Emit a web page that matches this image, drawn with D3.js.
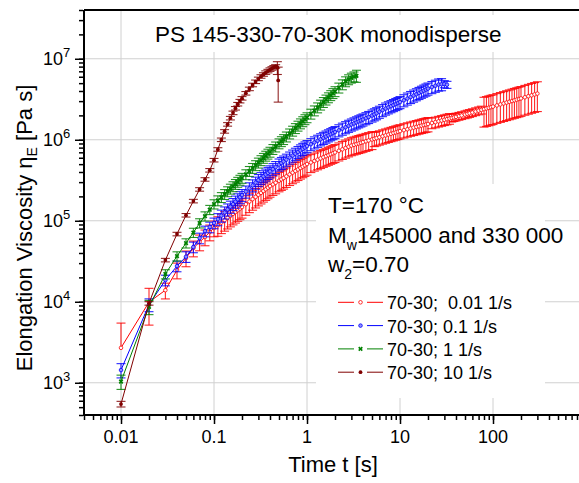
<!DOCTYPE html>
<html lang="en">
<head>
<meta charset="utf-8">
<script src="https://d3js.org/d3.v7.min.js"></script>
<style>
  body { margin: 0; background: #fff; }
  text { font-family: Arial, "Liberation Sans", sans-serif; fill: #000; }
</style>
</head>
<body>
<div id="chart"></div>
<script>
// ---- data: time [s] and elongational viscosity [Pa s] ----
// measurement times shared by the red, blue and green runs
var tGrid = [0.01,0.02,0.03,0.04,0.05,0.06,0.07,0.08,0.09,
  0.1,0.11,0.12,0.13,0.14,0.15,0.16,0.17,0.18,0.19,0.2,0.22,0.24,0.26,0.28,0.3,0.32,0.34,0.36,0.38,
  0.4,0.43,0.46,0.5,0.53,0.56,0.6,0.65,0.7,0.75,0.8,0.85,0.9,0.95,
  1,1.1,1.2,1.3,1.4,1.5,1.6,1.7,1.8,1.9,2,2.2,2.4,2.6,2.8,3,3.2,3.4,3.6,3.8,
  4,4.3,4.6,5,5.3,5.6,6,6.5,7,7.5,8,8.5,9,9.5,
  10,11,12,13,14,15,16,17,18,19,20,22,24,26,28,30,32,34,36,38,
  40,43,46,50,53,56,60,65,70,75,80,85,90,95,
  100,110,120,130,140,150,160,170,180,190,200,220,240,260,280,300];

var redV = [2700,9900,13900,24600,34700,46000,54600,63000,72500,
  8.13e4,8.82e4,9.51e4,1.019e5,1.085e5,1.152e5,1.218e5,1.283e5,1.348e5,1.412e5,
  1.476e5,1.602e5,1.726e5,1.849e5,1.971e5,2.091e5,2.21e5,2.329e5,2.446e5,2.562e5,
  2.679e5,2.814e5,2.948e5,3.12e5,3.247e5,3.371e5,3.534e5,3.733e5,3.926e5,4.116e5,
  4.301e5,4.483e5,4.661e5,4.837e5,
  5.012e5,5.246e5,5.47e5,5.681e5,5.886e5,6.084e5,6.275e5,6.458e5,6.637e5,6.812e5,
  6.98e5,7.306e5,7.615e5,7.913e5,8.199e5,8.472e5,8.661e5,8.843e5,9.017e5,9.186e5,
  9.348e5,9.583e5,9.806e5,1.009e6,1.029e6,1.049e6,1.074e6,1.104e6,1.132e6,1.159e6,
  1.185e6,1.21e6,1.234e6,1.257e6,
  1.279e6,1.315e6,1.349e6,1.381e6,1.411e6,1.44e6,1.467e6,1.494e6,1.519e6,1.543e6,
  1.566e6,1.611e6,1.652e6,1.691e6,1.728e6,1.763e6,1.797e6,1.829e6,1.86e6,1.889e6,
  1.918e6,1.959e6,1.998e6,2.046e6,2.086e6,2.124e6,2.173e6,2.231e6,2.286e6,2.339e6,
  2.389e6,2.437e6,2.483e6,2.528e6,
  2.57e6,2.654e6,2.732e6,2.807e6,2.877e6,2.944e6,3.009e6,3.071e6,3.13e6,3.188e6,
  3.243e6,3.348e6,3.448e6,3.54e6,3.63e6,3.715e6];

var blueV = [1435,9200,18500,27600,36000,47400,61100,74600,83600,
  9.38e4,1.046e5,1.156e5,1.266e5,1.379e5,1.492e5,1.607e5,1.722e5,1.839e5,1.956e5,
  2.075e5,2.294e5,2.513e5,2.734e5,2.955e5,3.177e5,3.359e5,3.541e5,3.72e5,3.898e5,
  4.075e5,4.338e5,4.598e5,4.943e5,5.166e5,5.386e5,5.675e5,6.029e5,6.376e5,6.72e5,
  7.056e5,7.387e5,7.714e5,8.037e5,
  8.356e5,8.827e5,9.279e5,9.716e5,1.014e6,1.055e6,1.095e6,1.134e6,1.172e6,1.209e6,
  1.245e6,1.309e6,1.37e6,1.43e6,1.487e6,1.542e6,1.592e6,1.641e6,1.689e6,1.735e6,
  1.78e6,1.846e6,1.91e6,1.991e6,2.061e6,2.128e6,2.217e6,2.323e6,2.427e6,2.514e6,
  2.599e6,2.682e6,2.762e6,2.84e6,
  2.917e6,3.074e6,3.225e6,3.371e6,3.511e6,3.648e6,3.782e6,3.912e6,4.04e6,4.164e6,
  4.285e6,4.469e6,4.643e6,4.808e6,4.853e6,4.875e6,4.786e6];

var greenV = [1035,8670,22000,36600,53000,71500,93700,1.14e5,1.37e5,
  1.607e5,1.78e5,1.953e5,2.128e5,2.304e5,2.48e5,2.657e5,2.835e5,3.014e5,3.194e5,
  3.374e5,3.737e5,4.101e5,4.468e5,4.837e5,5.207e5,5.578e5,5.953e5,6.33e5,6.708e5,
  7.085e5,7.654e5,8.226e5,8.995e5,9.572e5,1.015e6,1.093e6,1.191e6,1.289e6,1.388e6,
  1.487e6,1.587e6,1.687e6,1.787e6,
  1.888e6,2.091e6,2.294e6,2.5e6,2.706e6,2.913e6,3.122e6,3.33e6,3.541e6,3.752e6,
  3.963e6,4.39e6,4.817e6,5.25e6,5.559e6,5.821e6,6.026e6,6.166e6];

var brownT = [0.01,0.02,0.03,0.04,0.05,0.06,0.07,0.08,0.09,0.1,
  0.11,0.12,0.13,0.14,0.15,0.16,0.17,0.18,0.19,0.2,
  0.22,0.24,0.26,0.28,0.3,0.32,0.34,0.36,0.38,0.4,0.42,0.44,0.46,0.48,0.49];
var brownV = [546,9560,32700,68600,117000,175000,244000,324000,420000,560000,
  7.6e5,1.0e6,1.27e6,1.55e6,1.85e6,2.15e6,2.45e6,2.75e6,3.0e6,3.25e6,
  3.75e6,4.25e6,4.75e6,5.2e6,5.65e6,6.05e6,6.4e6,6.75e6,7.05e6,7.35e6,7.6e6,7.85e6,8.05e6,7.8e6,5.4e6];

// relative error bar size, valid up to the given time
var redErrT = [0.01, 0.02, 0.1, 1, 5, 20, 35, 75, 300];
var redErrV = [1.02, 0.48, 0.22, 0.27, 0.25, 0.2, 0.15, 0.11, 0.4];
var blueErrT = [0.01, 0.02, 0.1, 28, 32];
var blueErrV = [0.2, 0.18, 0.15, 0.17, 0.1];
var greenErrT = [0.02, 0.1, 3.2, 3.4];
var greenErrV = [0.2, 0.13, 0.14, 0.17];
var brownErrT = [0.01, 0.46, 0.48, 0.49];
var brownErrV = [0.08, 0.05, 0.18, 0.46];

var series = [
  {name: "70-30;  0.01 1/s", color: "#ff0000", mark: "open",
   t: tGrid.slice(0, redV.length), v: redV, et: redErrT, ev: redErrV},
  {name: "70-30; 0.1 1/s", color: "#0000ff", mark: "ring",
   t: tGrid.slice(0, blueV.length), v: blueV, et: blueErrT, ev: blueErrV},
  {name: "70-30; 1 1/s", color: "#008000", mark: "star",
   t: tGrid.slice(0, greenV.length), v: greenV, et: greenErrT, ev: greenErrV},
  {name: "70-30; 10 1/s", color: "#800000", mark: "dot",
   t: brownT, v: brownV, et: brownErrT, ev: brownErrV}
];

var xMajor = [0.01, 0.1, 1, 10, 100];
var xLabels = ["0.01", "0.1", "1", "10", "100"];
var yMajor = [1e3, 1e4, 1e5, 1e6, 1e7];
var yExp = ["3", "4", "5", "6", "7"];

// ---- layout ----
var W = 579, H = 483;
var pLeft = 84, pTop = 10, pBottom = 415;

var svg = d3.select("#chart").append("svg")
    .attr("width", W).attr("height", H);

var x = d3.scaleLog().domain([0.004, 1000]).range([pLeft, 586]);
var y = d3.scaleLog().domain([400, 4e7]).range([pBottom, pTop]);

function minors(lo, hi) {
  var out = [];
  for (var d = lo; d < hi; d *= 10)
    for (var k = 1; k < 10; k++) out.push(d * k);
  return out;
}
function errAt(s, t) {
  for (var i = 0; i < s.et.length; i++) if (t <= s.et[i] + 1e-9) return s.ev[i];
  return s.ev[s.ev.length - 1];
}

// grid
var grid = svg.append("g").attr("stroke", "#d0d0d0").attr("stroke-width", 1);
xMajor.forEach(function(v) {
  grid.append("line").attr("x1", x(v)).attr("x2", x(v)).attr("y1", pTop).attr("y2", pBottom);
});
yMajor.forEach(function(v) {
  grid.append("line").attr("x1", pLeft).attr("x2", W).attr("y1", y(v)).attr("y2", y(v));
});

// white boxes behind title and annotation
svg.append("rect").attr("x", 148).attr("y", 15).attr("width", 368).attr("height", 37).attr("fill", "#fff");
svg.append("rect").attr("x", 316).attr("y", 184).attr("width", 229).attr("height", 214).attr("fill", "#fff");

// data
svg.append("clipPath").attr("id", "clip").append("rect")
    .attr("x", pLeft).attr("y", pTop).attr("width", W - pLeft).attr("height", pBottom - pTop);
var plot = svg.append("g").attr("clip-path", "url(#clip)");
var cap = 4.5;

function drawMarker(g, mark, color, cx, cy) {
  if (mark === "open") {
    g.append("circle").attr("cx", cx).attr("cy", cy).attr("r", 1.8)
      .attr("fill", "#fff").attr("stroke", color).attr("stroke-width", 0.8);
  } else if (mark === "ring") {
    g.append("circle").attr("cx", cx).attr("cy", cy).attr("r", 1.8)
      .attr("fill", "#9090ff").attr("stroke", color).attr("stroke-width", 0.8);
  } else if (mark === "star") {
    g.append("path").attr("d", d3.symbol(d3.symbolCross, 14)())
      .attr("transform", "translate(" + cx + "," + cy + ") rotate(45)")
      .attr("fill", color);
  } else {
    g.append("circle").attr("cx", cx).attr("cy", cy).attr("r", 1.9).attr("fill", color);
  }
}

series.forEach(function(s) {
  var g = plot.append("g");
  var pts = s.t.map(function(t, i) { return {t: t, v: s.v[i], e: errAt(s, t)}; });
  var eb = g.append("g").attr("stroke", s.color).attr("stroke-width", 1.1).attr("stroke-opacity", 0.85);
  pts.forEach(function(p) {
    var px = x(p.t), hi = y(p.v * (1 + p.e));
    var lo = p.e < 1 ? y(p.v * (1 - p.e)) : y(p.v);
    eb.append("line").attr("x1", px).attr("x2", px).attr("y1", lo).attr("y2", hi);
    eb.append("line").attr("x1", px - cap).attr("x2", px + cap).attr("y1", hi).attr("y2", hi);
    if (p.e < 1) eb.append("line").attr("x1", px - cap).attr("x2", px + cap).attr("y1", lo).attr("y2", lo);
  });
  g.append("path").datum(pts)
    .attr("d", d3.line().x(function(p) { return x(p.t); }).y(function(p) { return y(p.v); }))
    .attr("fill", "none").attr("stroke", s.color).attr("stroke-width", 1);
  pts.forEach(function(p) { drawMarker(g, s.mark, s.color, x(p.t), y(p.v)); });
});

// axes
var ax = svg.append("g").attr("stroke", "#000");
ax.append("line").attr("x1", pLeft).attr("x2", W).attr("y1", pTop).attr("y2", pTop).attr("stroke-width", 2);
ax.append("line").attr("x1", pLeft).attr("x2", W).attr("y1", pBottom).attr("y2", pBottom).attr("stroke-width", 2);
ax.append("line").attr("x1", pLeft).attr("x2", pLeft).attr("y1", pTop).attr("y2", pBottom + 1).attr("stroke-width", 2);

var xAxisG = svg.append("g").attr("transform", "translate(0," + (pBottom + 1) + ")");
xAxisG.call(d3.axisBottom(x).tickValues(minors(0.001, 1000).filter(function(v) {
  return v >= 0.004 && v <= 1000; })).tickSize(4).tickFormat(""));
xAxisG.append("g").call(d3.axisBottom(x).tickValues(xMajor).tickSize(8).tickFormat(""));
xAxisG.selectAll(".domain").remove();
xAxisG.selectAll("line").attr("stroke-width", 1.5);

var yAxisG = svg.append("g").attr("transform", "translate(" + (pLeft - 1) + ",0)");
yAxisG.call(d3.axisLeft(y).tickValues(minors(100, 1e8).filter(function(v) {
  return v >= 400 && v <= 4e7; })).tickSize(4).tickFormat(""));
yAxisG.append("g").call(d3.axisLeft(y).tickValues(yMajor).tickSize(8).tickFormat(""));
yAxisG.selectAll(".domain").remove();
yAxisG.selectAll("line").attr("stroke-width", 1.5);

// tick labels
xMajor.forEach(function(v, i) {
  svg.append("text").attr("x", x(v)).attr("y", 443).attr("text-anchor", "middle")
    .attr("font-size", 18).text(xLabels[i]);
});
yMajor.forEach(function(v, i) {
  var t = svg.append("text").attr("x", 43).attr("y", y(v) + 6.5).attr("font-size", 18);
  t.append("tspan").text("10");
  t.append("tspan").attr("dy", -8).attr("font-size", 13).text(yExp[i]);
});

// axis titles
svg.append("text").attr("x", 333).attr("y", 472).attr("text-anchor", "middle")
  .attr("font-size", 22).text("Time t [s]");
var yt = svg.append("text").attr("transform", "translate(32,228) rotate(-90)")
  .attr("text-anchor", "middle").attr("font-size", 22);
yt.append("tspan").text("Elongation Viscosity \u03B7");
yt.append("tspan").attr("font-size", 14).attr("dy", 5).text("E");
yt.append("tspan").attr("dy", -5).text(" [Pa s]");

// title
svg.append("text").attr("x", 155).attr("y", 42).attr("font-size", 22.5)
  .text("PS 145-330-70-30K monodisperse");

// annotation
svg.append("text").attr("x", 328).attr("y", 213).attr("font-size", 22.5).text("T=170 \u00B0C");
var m = svg.append("text").attr("x", 328).attr("y", 243).attr("font-size", 22.5);
m.append("tspan").text("M");
m.append("tspan").attr("font-size", 14).attr("dy", 7).text("w");
m.append("tspan").attr("dy", -7).text("145000 and 330 000");
var w2 = svg.append("text").attr("x", 328).attr("y", 272).attr("font-size", 22.5);
w2.append("tspan").text("w");
w2.append("tspan").attr("font-size", 14).attr("dy", 7).text("2");
w2.append("tspan").attr("dy", -7).text("=0.70");

// legend
series.forEach(function(s, i) {
  var ly = 302.3 + i * 23.3;
  var g = svg.append("g");
  g.append("line").attr("x1", 338).attr("x2", 354).attr("y1", ly).attr("y2", ly)
    .attr("stroke", s.color).attr("stroke-width", 1);
  g.append("line").attr("x1", 367).attr("x2", 383).attr("y1", ly).attr("y2", ly)
    .attr("stroke", s.color).attr("stroke-width", 1);
  drawMarker(g, s.mark, s.color, 360.5, ly);
  g.append("text").attr("x", 387).attr("y", ly + 7).attr("font-size", 18)
    .style("white-space", "pre").text(s.name);
});
</script>
</body>
</html>
